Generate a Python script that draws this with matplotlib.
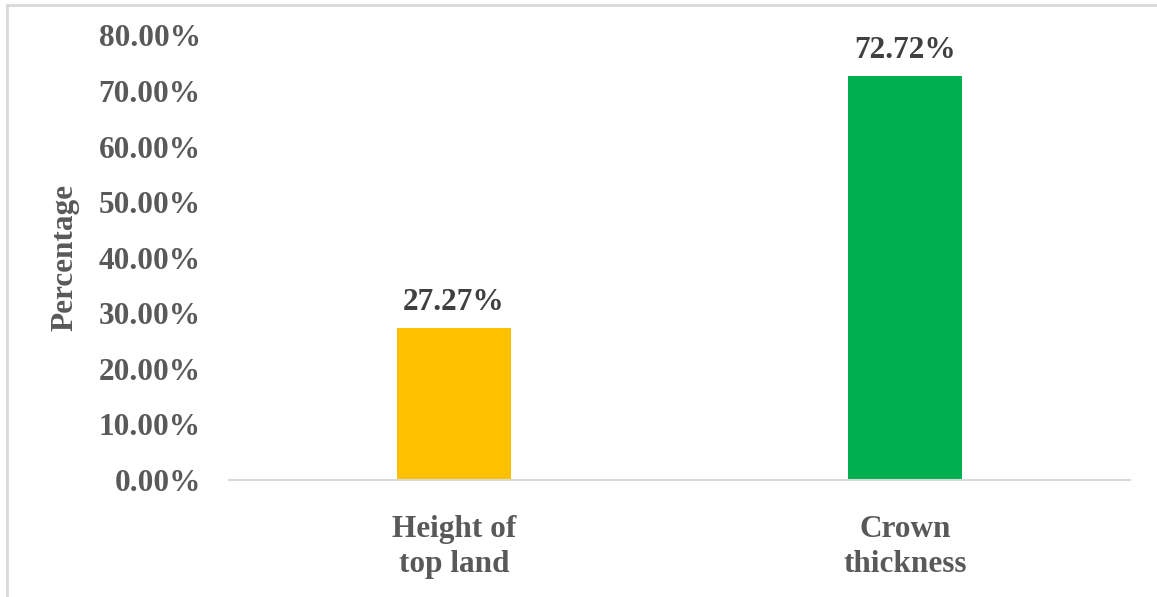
import matplotlib
matplotlib.use("Agg")
import matplotlib.pyplot as plt
from matplotlib.lines import Line2D

categories = ["Height of\ntop land", "Crown\nthickness"]
values = [27.27, 72.72]
value_labels = ["27.27%", "72.72%"]
colors = ["#FFC000", "#00B050"]
yticks = [0, 10, 20, 30, 40, 50, 60, 70, 80]

plt.rcParams['font.family'] = ['Liberation Serif', 'DejaVu Serif']
plt.rcParams['font.weight'] = 'bold'

W, H = 1157, 597
fig = plt.figure(figsize=(W / 100, H / 100), dpi=100)
ax = fig.add_axes([228.5 / W, 1 - 480 / H, (1130.5 - 228.5) / W, (480 - 35.5) / H])

x = list(range(len(categories)))
bars = ax.bar(x, values, width=0.253, color=colors, zorder=2)
for xi, v, lab in zip(x, values, value_labels):
    ax.annotate(lab, (xi, v), xytext=(0, 8), textcoords="offset points",
                ha="center", va="bottom", fontsize=22.5, fontweight="bold", color="#404040")

ax.set_xlim(-0.5, 1.5)
ax.set_ylim(0, 80)
ax.set_yticks(yticks)
ax.set_yticklabels([f"{t:.2f}%" for t in yticks])
ax.set_xticks(x)
ax.set_xticklabels(categories, linespacing=1.28)
ax.tick_params(axis="y", length=0, pad=20, labelsize=22.5, labelcolor="#595959")
ax.tick_params(axis="x", length=0, pad=25, labelsize=22.5, labelcolor="#595959")
for lab in ax.get_xticklabels() + ax.get_yticklabels():
    lab.set_fontweight("bold")

for s in ["top", "right", "left"]:
    ax.spines[s].set_visible(False)
ax.spines["bottom"].set_color("#D9D9D9")
ax.spines["bottom"].set_linewidth(1.5)

ax.set_ylabel("Percentage", fontsize=22.5, fontweight="bold", color="#595959", labelpad=14)

# figure border (left and top visible)
fig.add_artist(Line2D([7 / W, 7 / W], [0, 1 - 5 / H], color="#D9D9D9", linewidth=2, transform=fig.transFigure))
fig.add_artist(Line2D([7 / W, 1], [1 - 5 / H, 1 - 5 / H], color="#D9D9D9", linewidth=2, transform=fig.transFigure))

fig.savefig("out.png", dpi=100, facecolor="white")
